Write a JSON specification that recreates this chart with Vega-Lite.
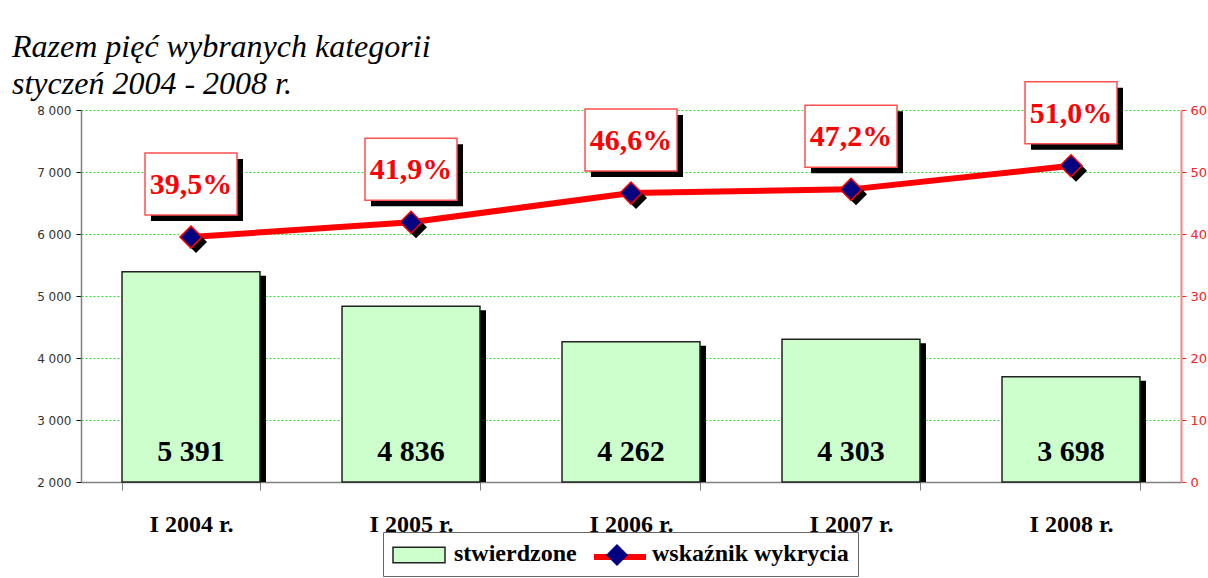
{
  "$schema": "https://vega.github.io/schema/vega-lite/v6.json",
  "width": 1100,
  "height": 372,
  "autosize": {"type": "none"},
  "padding": {"left": 81, "top": 110, "right": 27, "bottom": 96},
  "background": "white",
  "title": {
    "text": ["Razem pięć wybranych kategorii", "styczeń 2004 - 2008 r."],
    "anchor": "start",
    "frame": "group",
    "dx": -69,
    "offset": -54,
    "baseline": "bottom",
    "font": "Liberation Serif",
    "fontSize": 32,
    "fontStyle": "italic",
    "fontWeight": "normal",
    "lineHeight": 37,
    "color": "black"
  },
  "data": {
    "values": [
      {"rok": "I 2004 r.", "stwierdzone": 5391, "wskaznik": 39.5},
      {"rok": "I 2005 r.", "stwierdzone": 4836, "wskaznik": 41.9},
      {"rok": "I 2006 r.", "stwierdzone": 4262, "wskaznik": 46.6},
      {"rok": "I 2007 r.", "stwierdzone": 4303, "wskaznik": 47.2},
      {"rok": "I 2008 r.", "stwierdzone": 3698, "wskaznik": 51.0}
    ]
  },
  "transform": [
    {"calculate": "replace(format(datum.stwierdzone, ','), ',', ' ')", "as": "label_s"},
    {"calculate": "replace(format(datum.wskaznik, '.1f'), '.', ',') + '%'", "as": "label_w"}
  ],
  "encoding": {
    "x": {
      "field": "rok",
      "type": "nominal",
      "sort": null,
      "title": null,
      "scale": {"paddingInner": 0.373, "paddingOuter": 0.1865},
      "axis": {
        "labelAngle": 0,
        "labelFont": "Liberation Serif",
        "labelFontWeight": "bold",
        "labelFontSize": 24,
        "labelColor": "black",
        "labelBaseline": "alphabetic",
        "labelPadding": 41,
        "tickSize": 8,
        "tickColor": "#808080",
        "tickBand": "extent",
        "domainColor": "#808080",
        "domainWidth": 1.5,
        "grid": false
      }
    }
  },
  "layer": [
    {
      "encoding": {
        "y": {
          "field": "stwierdzone",
          "type": "quantitative",
          "title": null,
          "scale": {"domain": [2000, 8000], "nice": false, "zero": false},
          "axis": {
            "values": [2000, 3000, 4000, 5000, 6000, 7000, 8000],
            "labelExpr": "replace(format(datum.value, ','), ',', ' ')",
            "labelFont": "DejaVu Sans",
            "labelFontSize": 12,
            "labelColor": "#333333",
            "labelPadding": 5,
            "tickSize": 5,
            "tickColor": "black",
            "domainColor": "#808080",
            "domainWidth": 1.5,
            "grid": true,
            "gridColor": "#33dd33",
            "gridDash": [2, 2],
            "gridWidth": 1
          }
        }
      },
      "layer": [
        {
          "mark": {"type": "bar", "fill": "black", "xOffset": 6, "yOffset": 4},
          "encoding": {
            "y2": {"datum": 2000},
            "strokeDash": {
              "datum": "stwierdzone",
              "type": "nominal",
              "scale": {"domain": ["stwierdzone", "wskaźnik wykrycia"], "range": [[1, 0], [1, 0]]},
              "legend": {
                "title": null,
                "orient": "none",
                "legendX": 302,
                "legendY": 422,
                "direction": "horizontal",
                "padding": 9,
                "strokeColor": "#666666",
                "fillColor": "white",
                "labelFont": "Liberation Serif",
                "labelFontWeight": "bold",
                "labelFontSize": 24,
                "labelColor": "black",
                "labelLimit": 400,
                "labelOffset": 36,
                "columnPadding": 13,
                "symbolSize": 676,
                "symbolType": "square",
                "symbolOpacity": 0,
                "symbolStrokeWidth": 0,
                "zindex": 1
              }
            }
          }
        },
        {
          "mark": {"type": "bar", "stroke": "#222222", "strokeWidth": 1.5},
          "encoding": {
            "y2": {"datum": 2000},
            "fill": {
              "datum": "stwierdzone",
              "type": "nominal",
              "scale": {"domain": ["stwierdzone"], "range": ["#ccffcc"]},
              "legend": {
                "title": null,
                "orient": "none",
                "legendX": 311,
                "legendY": 431,
                "padding": 0,
                "symbolSize": 676,
                "symbolType": "M-1,-0.6L3,-0.6L3,0.6L-1,0.6Z",
                "symbolStrokeColor": "#222222",
                "symbolStrokeWidth": 1.5,
                "symbolOpacity": 1,
                "labelExpr": "''",
                "labelFontSize": 1,
                "zindex": 2
              }
            }
          }
        },
        {
          "mark": {"type": "text", "font": "Liberation Serif", "fontWeight": "bold", "fontSize": 30, "color": "black", "baseline": "middle"},
          "encoding": {
            "y": {"datum": 2485, "type": "quantitative", "title": null},
            "text": {"field": "label_s"}
          }
        }
      ]
    },
    {
      "encoding": {
        "y": {
          "field": "wskaznik",
          "type": "quantitative",
          "title": null,
          "scale": {"domain": [0, 60], "nice": false},
          "axis": {
            "orient": "right",
            "values": [0, 10, 20, 30, 40, 50, 60],
            "labelFont": "DejaVu Sans",
            "labelFontSize": 13,
            "labelColor": "#ff2020",
            "labelPadding": 4,
            "tickSize": 5,
            "tickColor": "#ff2020",
            "domainColor": "#ff8080",
            "domainWidth": 2,
            "grid": false
          }
        }
      },
      "layer": [
        {
          "mark": {"type": "line", "strokeWidth": 6},
          "encoding": {
            "stroke": {
              "datum": "wskaźnik wykrycia",
              "type": "nominal",
              "scale": {"domain": ["wskaźnik wykrycia"], "range": ["#ff0000"]},
              "legend": {
                "title": null,
                "orient": "none",
                "legendX": 510,
                "legendY": 431,
                "padding": 0,
                "symbolSize": 676,
                "symbolType": "M-1,0L3,0",
                "symbolStrokeWidth": 6,
                "symbolOpacity": 1,
                "labelExpr": "''",
                "labelFontSize": 1,
                "zindex": 2
              }
            }
          }
        },
        {
          "mark": {"type": "point", "shape": "diamond", "size": 484, "filled": true, "fill": "black", "opacity": 1, "xOffset": 5, "yOffset": 5}
        },
        {
          "mark": {"type": "point", "size": 484, "filled": true, "fill": "#000080", "stroke": "#ff0000", "strokeWidth": 1.5, "opacity": 1},
          "encoding": {
            "shape": {
              "datum": "znacznik",
              "type": "nominal",
              "scale": {"domain": ["znacznik"], "range": ["diamond"]},
              "legend": {
                "title": null,
                "orient": "none",
                "legendX": 524,
                "legendY": 433,
                "padding": 0,
                "symbolSize": 484,
                "symbolFillColor": "#000080",
                "symbolStrokeColor": "#ff0000",
                "symbolStrokeWidth": 1.5,
                "symbolOpacity": 1,
                "labelExpr": "''",
                "labelFontSize": 1,
                "zindex": 3
              }
            }
          }
        },
        {
          "mark": {"type": "point", "shape": "M-1,-0.674L1,-0.674L1,0.674L-1,0.674Z", "size": 8464, "filled": true, "fill": "black", "opacity": 1, "xOffset": 6, "yOffset": -47}
        },
        {
          "mark": {"type": "point", "shape": "M-1,-0.674L1,-0.674L1,0.674L-1,0.674Z", "size": 8464, "filled": true, "fill": "white", "stroke": "#ff5050", "strokeWidth": 1.5, "opacity": 1, "yOffset": -53}
        },
        {
          "mark": {"type": "text", "font": "Liberation Serif", "fontWeight": "bold", "fontSize": 30, "color": "#ff0000", "baseline": "middle", "yOffset": -52},
          "encoding": {"text": {"field": "label_w"}}
        }
      ]
    }
  ],
  "resolve": {"scale": {"y": "independent"}},
  "config": {"view": {"stroke": null}}
}
